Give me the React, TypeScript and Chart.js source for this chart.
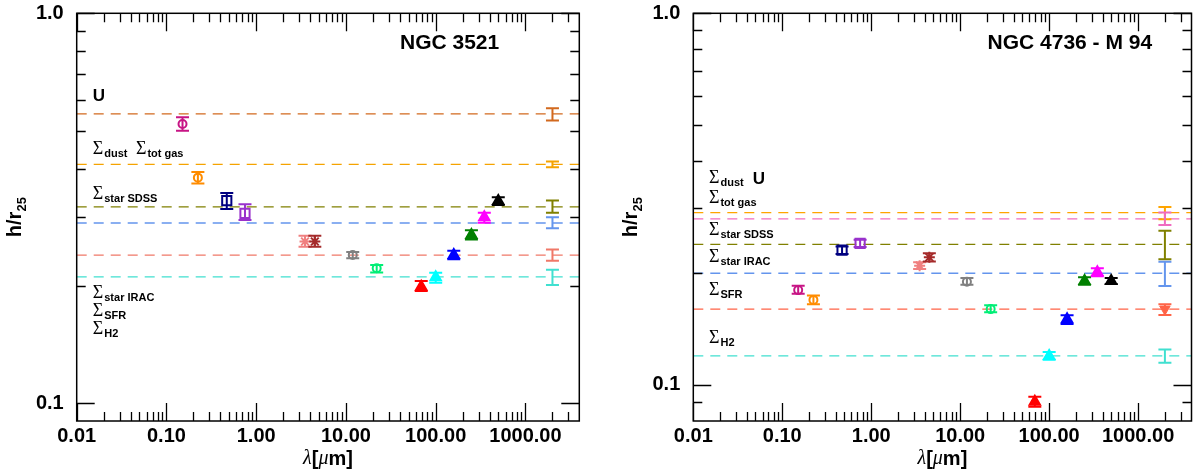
import { useEffect, useRef } from "react";
import { Chart, registerables, type Plugin } from "chart.js";

Chart.register(...registerables);

// photometric bands (same for both galaxies)
const bandNames = ["FUV", "NUV", "SDSS g", "SDSS i", "IRAC 3.6", "IRAC 4.5", "WISE 12", "WISE 22", "PACS 70", "PACS 100", "PACS 160", "SPIRE 250", "SPIRE 350", "SPIRE 500"];
const bandWavelengths = [0.151, 0.224, 0.47, 0.75, 3.5, 4.5, 11.9, 22, 69, 100, 159, 250, 348, 498];
const bandColors = ["#c71585", "#ff8c00", "#000080", "#9932cc", "#f08080", "#a52a2a", "#808080", "#00ee76", "#ff0000", "#00ffff", "#0000ff", "#008000", "#ff00ff", "#000000"];
const bandMarkers = ["circle", "circle", "rect", "rect", "star", "star", "circle", "circle", "triangle", "triangle", "triangle", "triangle", "triangle", "triangle"];

// NGC 3521: scale length h/r25 per band
const ngc3521Scale = [0.52, 0.379, 0.331, 0.307, 0.26, 0.26, 0.24, 0.222, 0.199, 0.2104, 0.24, 0.27, 0.3, 0.33];
const ngc3521Low = [0.5, 0.366, 0.315, 0.295, 0.252, 0.252, 0.2354, 0.2164, 0.194, 0.2038, 0.234, 0.263, 0.2904, 0.3224];
const ngc3521High = [0.541, 0.392, 0.346, 0.324, 0.269, 0.269, 0.2445, 0.2264, 0.206, 0.2163, 0.246, 0.278, 0.308, 0.3374];

// NGC 4736 (M 94)
const m94Scale = [0.18, 0.1694, 0.2307, 0.2405, 0.2094, 0.2206, 0.1896, 0.16, 0.0902, 0.1197, 0.1502, 0.1905, 0.201, 0.1905];
const m94Low = [0.176, 0.165, 0.225, 0.235, 0.205, 0.215, 0.186, 0.157, 0.0874, 0.1169, 0.146, 0.186, 0.196, 0.187];
const m94High = [0.185, 0.174, 0.236, 0.246, 0.214, 0.226, 0.194, 0.164, 0.093, 0.1227, 0.154, 0.195, 0.206, 0.194];

// maps (dashed lines + error bars in the right column)
const mapWavelength = 2000;

const ngc3521MapNames = ["U", "Σdust / Σtot gas", "Σstar SDSS", "Σstar IRAC", "ΣSFR", "ΣH2"];
const ngc3521MapScale = [0.552, 0.41, 0.319, 0.29, 0.24, 0.211];
const ngc3521MapLow = [0.531, 0.403, 0.308, 0.281, 0.232, 0.201];
const ngc3521MapHigh = [0.571, 0.417, 0.331, 0.3, 0.248, 0.22];
const ngc3521MapColors = ["#d2691e", "#f5a300", "#808000", "#6495ed", "#f07868", "#40e0d0"];
const ngc3521MapMarked = [false, false, false, false, false, false];

const m94MapNames = ["Σdust / U", "Σtot gas", "Σstar SDSS", "Σstar IRAC", "ΣSFR", "ΣH2"];
const m94MapScale = [0.291, 0.28, 0.239, 0.1998, 0.16, 0.1197];
const m94MapLow = [0.279, 0.2694, 0.218, 0.1846, 0.1543, 0.1147];
const m94MapHigh = [0.301, 0.291, 0.26, 0.2147, 0.165, 0.1246];
const m94MapColors = ["#ffa500", "#f06cc0", "#808000", "#6495ed", "#ff6347", "#40e0d0"];
const m94MapMarked = [false, false, false, false, true, false];

// axes
const xMin = 0.01;
const xMax = 3981;
const xTickValues = [0.01, 0.1, 1, 10, 100, 1000];
const xTickLabels = ["0.01", "0.10", "1.00", "10.00", "100.00", "1000.00"];
const yTickValues = [0.1, 1];
const yTickLabels = ["0.1", "1.0"];
const minorMultipliers = [2, 3, 4, 5, 6, 7, 8, 9];

type Note = { sigma: boolean; text: string; x: number; y: number };

const ngc3521Notes: Note[] = [
  { sigma: false, text: "U", x: 0.0151, y: 0.617 },
  { sigma: true, text: "dust", x: 0.0151, y: 0.4515 },
  { sigma: true, text: "tot gas", x: 0.0457, y: 0.4515 },
  { sigma: true, text: "star SDSS", x: 0.0151, y: 0.3467 },
  { sigma: true, text: "star IRAC", x: 0.0151, y: 0.1932 },
  { sigma: true, text: "SFR", x: 0.0151, y: 0.1734 },
  { sigma: true, text: "H2", x: 0.0151, y: 0.1557 },
];

const m94Notes: Note[] = [
  { sigma: true, text: "dust", x: 0.015, y: 0.362 },
  { sigma: false, text: "U", x: 0.0467, y: 0.36 },
  { sigma: true, text: "tot gas", x: 0.015, y: 0.3205 },
  { sigma: true, text: "star SDSS", x: 0.015, y: 0.263 },
  { sigma: true, text: "star IRAC", x: 0.015, y: 0.2228 },
  { sigma: true, text: "SFR", x: 0.015, y: 0.1813 },
  { sigma: true, text: "H2", x: 0.015, y: 0.1344 },
];

const SANS = '"Liberation Sans", Arial, sans-serif';
const SERIF = '"Liberation Serif", "DejaVu Serif", serif';

const markerRadius: Record<string, number> = { circle: 4, rect: 6.5, star: 5.5, triangle: 6 };

type PanelProps = {
  left: number;
  axisWidth: number;
  padRight: number;
  yMin: number;
  title: string;
  titleX: number;
  titleY: number;
  values: number[];
  lows: number[];
  highs: number[];
  mapNames: string[];
  mapValues: number[];
  mapLows: number[];
  mapHighs: number[];
  mapColors: string[];
  mapMarked: boolean[];
  notes: Note[];
};

function Panel(props: PanelProps) {
  const canvasRef = useRef<HTMLCanvasElement | null>(null);

  useEffect(() => {
    const el = canvasRef.current;
    if (!el) return;
    const p = props;

    const errBar = (ctx: CanvasRenderingContext2D, x: number, y1: number, y2: number, half: number, color: string) => {
      ctx.strokeStyle = color;
      ctx.lineWidth = 2;
      ctx.beginPath();
      ctx.moveTo(x, y1);
      ctx.lineTo(x, y2);
      ctx.moveTo(x - half, y1);
      ctx.lineTo(x + half, y1);
      ctx.moveTo(x - half, y2);
      ctx.lineTo(x + half, y2);
      ctx.stroke();
    };

    const decor: Plugin<"scatter"> = {
      id: "decor",
      afterDatasetsDraw(chart) {
        const { ctx, scales } = chart;
        const xs = scales.x;
        const ys = scales.y;
        ctx.save();
        ctx.setLineDash([]);

        // error bars of the bands
        bandWavelengths.forEach((w, i) => {
          const x = xs.getPixelForValue(w);
          errBar(ctx, x, ys.getPixelForValue(p.highs[i]), ys.getPixelForValue(p.lows[i]), 6.5, bandColors[i]);
        });
        // error bars of the maps
        p.mapValues.forEach((_, i) => {
          const x = xs.getPixelForValue(mapWavelength);
          errBar(ctx, x, ys.getPixelForValue(p.mapHighs[i]), ys.getPixelForValue(p.mapLows[i]), 6.5, p.mapColors[i]);
        });

        // notes
        ctx.fillStyle = "#000";
        ctx.textBaseline = "alphabetic";
        ctx.textAlign = "left";
        p.notes.forEach((n) => {
          const x = xs.getPixelForValue(n.x);
          const y = ys.getPixelForValue(n.y);
          if (n.sigma) {
            ctx.font = `18px ${SERIF}`;
            ctx.fillText("Σ", x, y + 6);
            const w = ctx.measureText("Σ").width;
            ctx.font = `bold 11px ${SANS}`;
            ctx.fillText(n.text, x + w + 1, y + 9);
          } else {
            ctx.font = `bold 17px ${SANS}`;
            ctx.fillText(n.text, x, y + 6);
          }
        });

        // panel title
        ctx.font = `bold 21px ${SANS}`;
        ctx.textBaseline = "middle";
        ctx.fillText(p.title, xs.getPixelForValue(p.titleX), ys.getPixelForValue(p.titleY));
        ctx.restore();
      },
      afterDraw(chart) {
        const { ctx, chartArea: a, scales } = chart;
        const xs = scales.x;
        const ys = scales.y;
        ctx.save();
        ctx.strokeStyle = "#000";
        ctx.lineWidth = 1.3;
        ctx.setLineDash([]);
        ctx.beginPath();
        // x ticks, bottom and top, pointing inwards
        const xTick = (v: number, len: number) => {
          const x = Math.round(xs.getPixelForValue(v)) + 0.5;
          ctx.moveTo(x, a.bottom);
          ctx.lineTo(x, a.bottom - len);
          ctx.moveTo(x, a.top);
          ctx.lineTo(x, a.top + len);
        };
        xTickValues.forEach((v) => xTick(v, 18));
        xTickValues.forEach((d) =>
          minorMultipliers.forEach((m) => {
            const v = d * m;
            if (v < xMax) xTick(v, 9);
          })
        );
        const yTick = (v: number, len: number) => {
          const y = Math.round(ys.getPixelForValue(v)) + 0.5;
          ctx.moveTo(a.left, y);
          ctx.lineTo(a.left + len, y);
          ctx.moveTo(a.right, y);
          ctx.lineTo(a.right - len, y);
        };
        yTickValues.forEach((v) => yTick(v, 18));
        [0.01, 0.1].forEach((d) =>
          minorMultipliers.forEach((m) => {
            const v = d * m;
            if (v > p.yMin && v < 1) yTick(v, 9);
          })
        );
        ctx.stroke();
        // frame
        ctx.lineWidth = 1.5;
        ctx.strokeRect(a.left, a.top, a.right - a.left, a.bottom - a.top);

        // y title h/r25 (rotated)
        ctx.fillStyle = "#000";
        ctx.translate(a.left - 63, (a.top + a.bottom) / 2);
        ctx.rotate(-Math.PI / 2);
        ctx.textBaseline = "alphabetic";
        ctx.font = `bold 20px ${SANS}`;
        const w1 = ctx.measureText("h/r").width;
        ctx.font = `bold 13px ${SANS}`;
        const w2 = ctx.measureText("25").width;
        const x0 = -(w1 + w2) / 2;
        ctx.font = `bold 20px ${SANS}`;
        ctx.fillText("h/r", x0, 7);
        ctx.font = `bold 13px ${SANS}`;
        ctx.fillText("25", x0 + w1, 12);
        ctx.setTransform(1, 0, 0, 1, 0, 0);
        ctx.restore();

        // x title λ[μm]
        ctx.save();
        ctx.fillStyle = "#000";
        ctx.textBaseline = "middle";
        const parts: [string, string][] = [
          ["λ", `italic 20px ${SERIF}`],
          ["[", `bold 20px ${SANS}`],
          ["μ", `italic 20px ${SERIF}`],
          ["m]", `bold 20px ${SANS}`],
        ];
        let total = 0;
        parts.forEach(([t, f]) => {
          ctx.font = f;
          total += ctx.measureText(t).width;
        });
        let cx = (a.left + a.right) / 2 - total / 2;
        parts.forEach(([t, f]) => {
          ctx.font = f;
          ctx.fillText(t, cx, 459);
          cx += ctx.measureText(t).width;
        });
        ctx.restore();
      },
    };

    const lineSets = p.mapValues.map((v, i) => ({
      type: "line" as const,
      label: p.mapNames[i],
      data: [
        { x: xMin, y: v },
        { x: xMax, y: v },
      ],
      borderColor: p.mapColors[i],
      borderWidth: 1.3,
      borderDash: [10, 7],
      pointRadius: 0,
      order: 3,
    }));

    const noPad = (s: any) => {
      s.paddingTop = 0;
      s.paddingBottom = 0;
      s.paddingLeft = 0;
      s.paddingRight = 0;
    };

    const chart = new Chart(el, {
      type: "scatter",
      data: {
        datasets: [
          {
            label: "bands",
            data: bandWavelengths.map((x, i) => ({ x, y: p.values[i] })),
            pointStyle: bandMarkers as any,
            pointRadius: bandMarkers.map((m) => markerRadius[m]),
            pointBorderColor: bandColors,
            pointBackgroundColor: bandMarkers.map((m, i) => (m === "triangle" ? bandColors[i] : "rgba(0,0,0,0)")),
            pointBorderWidth: 2,
            order: 1,
          },
          {
            label: "maps",
            data: p.mapValues.map((y) => ({ x: mapWavelength, y })),
            pointStyle: "triangle",
            pointRotation: 180,
            pointRadius: p.mapMarked.map((m) => (m ? 6 : 0)),
            pointBorderColor: p.mapColors,
            pointBackgroundColor: p.mapColors,
            order: 2,
          },
          ...(lineSets as any[]),
        ],
      },
      options: {
        animation: false,
        responsive: true,
        maintainAspectRatio: false,
        events: [],
        layout: { padding: { left: 0, right: p.padRight, top: 13.3, bottom: 0 } },
        plugins: { legend: { display: false }, tooltip: { enabled: false } },
        scales: {
          x: {
            type: "logarithmic",
            min: xMin,
            max: xMax,
            grid: { display: false, drawTicks: false },
            border: { display: false },
            afterBuildTicks: (s) => {
              s.ticks = xTickValues.map((value) => ({ value }));
            },
            afterFit: (s) => {
              s.height = 50;
              noPad(s);
            },
            ticks: {
              autoSkip: false,
              maxRotation: 0,
              minRotation: 0,
              padding: 3,
              color: "#000",
              font: { family: SANS, size: 20, weight: "bold" },
              callback: (v) => xTickLabels[xTickValues.indexOf(Number(v))] ?? "",
            },
          },
          y: {
            type: "logarithmic",
            min: p.yMin,
            max: 1,
            grid: { display: false, drawTicks: false },
            border: { display: false },
            afterBuildTicks: (s) => {
              s.ticks = yTickValues.map((value) => ({ value }));
            },
            afterFit: (s) => {
              s.width = p.axisWidth;
              noPad(s);
            },
            ticks: {
              autoSkip: false,
              padding: 13,
              color: "#000",
              font: { family: SANS, size: 20, weight: "bold" },
              callback: (v) => yTickLabels[yTickValues.indexOf(Number(v))] ?? "",
            },
          },
        },
      },
      plugins: [decor],
    });

    return () => {
      chart.destroy();
    };
  }, [props]);

  return (
    <div style={{ position: "absolute", left: props.left, top: 0, width: 600, height: 471 }}>
      <canvas ref={canvasRef} />
    </div>
  );
}

const leftPanel: PanelProps = {
  left: 0,
  axisWidth: 76.7,
  padRight: 20.7,
  yMin: 0.0901,
  title: "NGC 3521",
  titleX: 40,
  titleY: 0.839,
  values: ngc3521Scale,
  lows: ngc3521Low,
  highs: ngc3521High,
  mapNames: ngc3521MapNames,
  mapValues: ngc3521MapScale,
  mapLows: ngc3521MapLow,
  mapHighs: ngc3521MapHigh,
  mapColors: ngc3521MapColors,
  mapMarked: ngc3521MapMarked,
  notes: ngc3521Notes,
};

const rightPanel: PanelProps = {
  left: 600,
  axisWidth: 93.3,
  padRight: 5,
  yMin: 0.08,
  title: "NGC 4736 - M 94",
  titleX: 20.3,
  titleY: 0.832,
  values: m94Scale,
  lows: m94Low,
  highs: m94High,
  mapNames: m94MapNames,
  mapValues: m94MapScale,
  mapLows: m94MapLow,
  mapHighs: m94MapHigh,
  mapColors: m94MapColors,
  mapMarked: m94MapMarked,
  notes: m94Notes,
};

export default function App() {
  return (
    <div style={{ position: "fixed", left: 0, top: 0, width: 1200, height: 471, background: "#fff" }}>
      <Panel {...leftPanel} />
      <Panel {...rightPanel} />
    </div>
  );
}
